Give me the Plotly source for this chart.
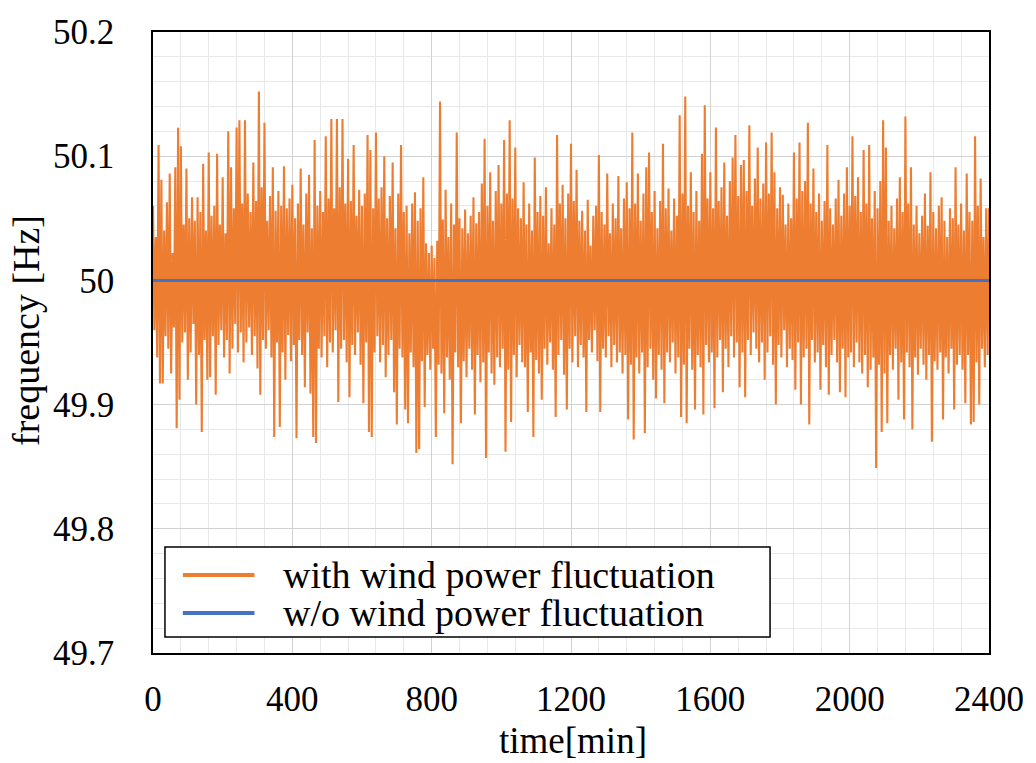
import numpy as np
import plotly.graph_objects as go

# ---- data ----
# frequency deviation from 50 Hz in mHz: upward swings, sampled every 8 min from t=0
upper_dev_mHz = [
    60, 35, 109, 81, 40, 63, 86, 22, 91, 123,
    108, 45, 90, 50, 67, 48, 67, 55, 94, 40,
    103, 52, 60, 102, 45, 83, 38, 120, 91, 58,
    123, 129, 62, 129, 70, 55, 95, 64, 152, 75,
    127, 48, 68, 91, 56, 72, 60, 92, 58, 66,
    77, 50, 62, 90, 45, 70, 85, 42, 113, 60,
    72, 55, 116, 66, 130, 58, 130, 75, 130, 62,
    98, 64, 109, 52, 73, 60, 70, 117, 105, 58,
    119, 66, 75, 100, 50, 68, 95, 42, 70, 109,
    55, 60, 38, 62, 71, 48, 58, 83, 30, 22,
    28, 18, 32, 144, 49, 73, 35, 62, 45, 119,
    50, 42, 57, 38, 52, 67, 46, 55, 78, 114,
    60, 87, 48, 72, 93, 62, 113, 70, 129, 66,
    107, 58, 50, 79, 45, 62, 40, 99, 55, 68,
    52, 75, 30, 58, 45, 117, 62, 77, 50, 70,
    110, 64, 89, 48, 56, 40, 65, 28, 52, 60,
    101, 55, 45, 86, 38, 62, 50, 84, 42, 66,
    79, 58, 119, 62, 86, 48, 70, 91, 103, 55,
    72, 42, 64, 110, 58, 74, 40, 66, 52, 133,
    70, 148, 60, 87, 55, 72, 48, 102, 141, 66,
    87, 58, 123, 64, 75, 95, 52, 80, 99, 117,
    68, 93, 97, 72, 125, 60, 82, 107, 66, 78,
    111, 70, 119, 87, 58, 75, 69, 45, 62, 50,
    103, 66, 111, 72, 80, 127, 62, 90, 55, 70,
    48, 64, 109, 58, 45, 66, 81, 52, 70, 91,
    60, 116, 68, 83, 55, 105, 62, 109, 50, 72,
    58, 80, 129, 107, 48, 60, 42, 66, 83, 55,
    132, 62, 91, 45, 60, 38, 52, 70, 44, 87,
    55, 42, 60, 67, 48, 35, 58, 50, 91, 45,
    62, 40, 86, 55, 48, 116, 60, 82, 35, 58,
    58,
]
# downward swings, sampled every 8 min from t=4
lower_dev_mHz = [
    -40, -62, -83, -83, -45, -55, -75, -38, -119, -96,
    -50, -42, -80, -58, -35, -100, -60, -122, -48, -80,
    -78, -45, -92, -52, -40, -62, -48, -75, -55, -35,
    -58, -42, -66, -50, -38, -60, -45, -71, -92, -48,
    -55, -40, -62, -126, -50, -118, -58, -80, -44, -65,
    -52, -127, -48, -60, -86, -42, -91, -126, -131, -55,
    -62, -45, -70, -50, -58, -40, -98, -55, -48, -66,
    -94, -52, -60, -42, -68, -99, -50, -122, -126, -58,
    -45, -66, -52, -78, -60, -48, -90, -116, -55, -62,
    -104, -115, -58, -70, -139, -136, -65, -102, -60, -72,
    -55, -126, -68, -75, -107, -62, -80, -148, -58, -70,
    -115, -65, -78, -55, -72, -108, -60, -82, -66, -143,
    -58, -75, -84, -62, -70, -55, -138, -72, -114, -60,
    -78, -52, -66, -70, -106, -58, -126, -64, -75, -96,
    -55, -68, -50, -72, -110, -60, -48, -76, -104, -55,
    -66, -45, -70, -52, -62, -106, -48, -58, -40, -65,
    -106, -55, -62, -45, -70, -52, -66, -58, -75, -60,
    -112, -68, -128, -62, -75, -58, -123, -70, -55, -80,
    -95, -60, -72, -99, -58, -66, -50, -75, -62, -110,
    -68, -115, -55, -72, -104, -60, -70, -108, -52, -66,
    -58, -103, -62, -48, -90, -55, -70, -45, -62, -50,
    -86, -58, -94, -48, -60, -42, -55, -66, -50, -80,
    -58, -45, -68, -100, -52, -62, -40, -70, -55, -64,
    -88, -50, -100, -62, -55, -116, -48, -66, -58, -88,
    -52, -70, -92, -60, -48, -66, -90, -55, -94, -62,
    -58, -70, -50, -66, -75, -60, -86, -72, -62, -151,
    -68, -122, -75, -115, -60, -72, -55, -96, -66, -112,
    -58, -70, -120, -62, -76, -55, -68, -80, -60, -130,
    -65, -72, -58, -112, -62, -75, -55, -104, -68, -60,
    -72, -99, -60, -116, -114, -66, -100, -55, -70, -60,
]
nominal_hz = 50.0
baseline_t = [0, 2400]
baseline_f = [50.0, 50.0]

y_tick_vals = [49.7, 49.8, 49.9, 50.0, 50.1, 50.2]
y_tick_text = ["49.7", "49.8", "49.9", "50", "50.1", "50.2"]
x_tick_vals = [0, 400, 800, 1200, 1600, 2000, 2400]

series_names = ["with wind power fluctuation", "w/o wind power fluctuation"]

# ---- build the interleaved time series ----
t_up = np.arange(len(upper_dev_mHz)) * 8.0
t_lo = np.arange(len(lower_dev_mHz)) * 8.0 + 4.0
t = np.empty(len(t_up) + len(t_lo))
f = np.empty_like(t)
t[0::2] = t_up
t[1::2] = t_lo
f[0::2] = nominal_hz + np.array(upper_dev_mHz) / 1000.0
f[1::2] = nominal_hz + np.array(lower_dev_mHz) / 1000.0

ORANGE = "#ED7D31"
BLUE = "#4472C4"
FONT = "Liberation Serif"

fig = go.Figure()
fig.add_trace(go.Scatter(x=t, y=f, mode="lines", name=series_names[0],
                         line=dict(color=ORANGE, width=2.1), showlegend=False))
fig.add_trace(go.Scatter(x=baseline_t, y=baseline_f, mode="lines", name=series_names[1],
                         line=dict(color=BLUE, width=3), showlegend=False))

fig.update_layout(
    width=1036, height=763,
    margin=dict(l=153, r=43, t=32, b=110),
    paper_bgcolor="white", plot_bgcolor="white",
    font=dict(family=FONT, size=35, color="black"),
)
fig.update_xaxes(
    range=[0, 2400], tickvals=x_tick_vals, ticks="", ticklabelstandoff=14,
    showgrid=True, gridcolor="#d2d2d2", gridwidth=1,
    minor=dict(dtick=80, showgrid=True, gridcolor="#e8e8e8", gridwidth=1),
    showline=True, linecolor="black", linewidth=1.5, mirror=True, zeroline=False,
    tickfont=dict(family=FONT, size=35, color="black"),
)
fig.update_yaxes(
    range=[49.7, 50.2], tickvals=y_tick_vals, ticktext=y_tick_text, ticks="",
    ticklabelstandoff=30,
    showgrid=True, gridcolor="#d2d2d2", gridwidth=1,
    minor=dict(tick0=49.7, dtick=0.02, showgrid=True, gridcolor="#e8e8e8", gridwidth=1),
    showline=True, linecolor="black", linewidth=1.5, mirror=True, zeroline=False,
    tickfont=dict(family=FONT, size=35, color="black"),
)

# axis titles
fig.add_annotation(text="frequency [Hz]", xref="paper", yref="paper", x=-0.152, y=0.52,
                   xanchor="center", yanchor="middle",
                   textangle=-90, showarrow=False, font=dict(family=FONT, size=38, color="black"))
fig.add_annotation(text="time[min]", xref="paper", yref="paper", x=0.5024, y=-0.141,
                   xanchor="center", yanchor="middle",
                   showarrow=False, font=dict(family=FONT, size=37, color="black"))

# legend box drawn as shapes + text
fig.add_shape(type="rect", xref="paper", yref="paper", x0=0.0143, x1=0.7381, y0=0.0258, y1=0.1707,
              line=dict(color="black", width=1.5), fillcolor="white", layer="above")
fig.add_shape(type="line", xref="paper", yref="paper", x0=0.0357, x1=0.1214, y0=0.1256, y1=0.1256,
              line=dict(color=ORANGE, width=4), layer="above")
fig.add_shape(type="line", xref="paper", yref="paper", x0=0.0357, x1=0.1214, y0=0.0644, y1=0.0644,
              line=dict(color=BLUE, width=4), layer="above")
fig.add_annotation(text=series_names[0], xref="paper", yref="paper", x=0.1536, y=0.1256,
                   xanchor="left", yanchor="middle", showarrow=False,
                   font=dict(family=FONT, size=38, color="black"))
fig.add_annotation(text=series_names[1], xref="paper", yref="paper", x=0.1536, y=0.0644,
                   xanchor="left", yanchor="middle", showarrow=False,
                   font=dict(family=FONT, size=38, color="black"))

fig.write_html("out.html")
